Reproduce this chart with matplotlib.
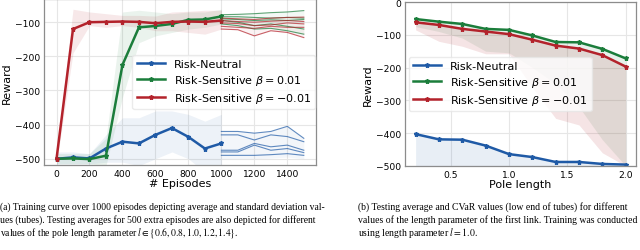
import matplotlib
matplotlib.use("Agg")
import matplotlib.pyplot as plt
import numpy as np

# ---- training curves (left) ----
episodes = [0, 100, 200, 300, 400, 500, 600, 700, 800, 900, 1000]
neutral = [-500, -496, -499, -470, -450, -455, -430, -410, -436, -470, -455]
sens_pos = [-500, -499, -501, -491, -225, -115, -111, -105, -93, -92, -83]
sens_neg = [-500, -120, -100, -99, -98, -99, -103, -99, -98, -99, -95]

neutral_lo = [-515, -515, -515, -510, -510, -520, -500, -480, -500, -540, -540]
neutral_hi = [-480, -480, -485, -430, -380, -380, -360, -360, -370, -390, -370]
pos_lo = [-515, -515, -515, -520, -320, -160, -140, -130, -120, -115, -105]
pos_hi = [-485, -485, -485, -440, -70, -65, -70, -75, -70, -70, -62]
neg_lo = [-515, -190, -110, -115, -110, -115, -125, -125, -130, -135, -120]
neg_hi = [-485, -62, -70, -75, -80, -80, -82, -70, -68, -65, -65]

# ---- testing averages for pole length in {0.6, 0.8, 1.0, 1.2, 1.4} ----
test_eps = [1000, 1100, 1200, 1300, 1400, 1500]
test_neutral = [
    [-420, -420, -425, -420, -405, -440],
    [-430, -430, -445, -430, -435, -450],
    [-475, -475, -455, -465, -460, -475],
    [-480, -480, -460, -475, -470, -482],
    [-490, -490, -490, -488, -485, -490],
]
test_pos = [
    [-78, -77, -75, -72, -70, -66],
    [-84, -84, -86, -88, -86, -88],
    [-90, -92, -95, -93, -95, -92],
    [-95, -100, -110, -105, -112, -120],
    [-105, -110, -120, -118, -125, -135],
]
test_neg = [
    [-88, -90, -92, -88, -86, -85],
    [-95, -98, -100, -97, -95, -98],
    [-102, -104, -110, -108, -102, -105],
    [-112, -115, -118, -112, -115, -115],
    [-120, -122, -140, -125, -130, -145],
]

# ---- testing vs pole length (right) ----
pole = [0.2, 0.4, 0.6, 0.8, 1.0, 1.2, 1.4, 1.6, 1.8, 2.0]
pole_neutral = [-403, -419, -420, -438, -464, -473, -488, -488, -494, -496]
pole_pos = [-52, -60, -67, -82, -85, -102, -122, -123, -143, -172]
pole_neg = [-62, -70, -82, -90, -98, -115, -133, -142, -162, -197]
cvar_neutral = [-500, -500, -500, -500, -500, -500, -500, -500, -500, -500]
cvar_pos = [-75, -90, -110, -150, -155, -200, -250, -320, -420, -500]
cvar_neg = [-85, -120, -135, -158, -158, -260, -355, -375, -460, -500]

labels = ["Risk-Neutral", r"Risk-Sensitive $\beta = 0.01$",
          r"Risk-Sensitive $\beta = -0.01$"]
c_blue = "#1f5aa6"
c_green = "#1b7d3b"
c_red = "#b3222b"

plt.rcParams["font.family"] = "DejaVu Sans"
plt.rcParams["mathtext.fontset"] = "dejavusans"

fig = plt.figure(figsize=(6.4, 2.51), dpi=100)
ax1 = fig.add_axes([0.069, 0.339, 0.425, 0.661])
ax2 = fig.add_axes([0.633, 0.335, 0.361, 0.653])

def style(ax):
    ax.grid(True, color="0.9", linewidth=0.8)
    ax.set_axisbelow(True)
    for s in ax.spines.values():
        s.set_color("0.55")
        s.set_linewidth(0.9)
    ax.tick_params(length=0, labelsize=6.6, pad=3)

kw = dict(linewidth=1.8, marker="*", markersize=3.6)

# left
ax1.fill_between(episodes, neutral_lo, neutral_hi, color=c_blue, alpha=0.08, linewidth=0)
ax1.fill_between(episodes, pos_lo, pos_hi, color=c_green, alpha=0.09, linewidth=0)
ax1.fill_between(episodes, neg_lo, neg_hi, color=c_red, alpha=0.1, linewidth=0)
ax1.plot(episodes, neutral, color=c_blue, label=labels[0], **kw)
ax1.plot(episodes, sens_pos, color=c_green, label=labels[1], **kw)
ax1.plot(episodes, sens_neg, color=c_red, label=labels[2], **kw)

tn = np.array(test_neutral)
tp = np.array(test_pos)
tg = np.array(test_neg)
ax1.fill_between(test_eps, tn.min(0) - 10, tn.max(0), color=c_blue, alpha=0.05, linewidth=0)
ax1.fill_between(test_eps, tp.min(0), tp.max(0), color=c_green, alpha=0.05, linewidth=0)
ax1.fill_between(test_eps, tg.min(0), tg.max(0), color=c_red, alpha=0.05, linewidth=0)
for row in test_neutral:
    ax1.plot(test_eps, row, color=c_blue, linewidth=0.8, alpha=0.7)
for row in test_pos:
    ax1.plot(test_eps, row, color=c_green, linewidth=0.8, alpha=0.7)
for row in test_neg:
    ax1.plot(test_eps, row, color=c_red, linewidth=0.8, alpha=0.7)

style(ax1)
ax1.set_xlim(-75, 1575)
ax1.set_ylim(-518, -32)
ax1.set_xticks([0, 200, 400, 600, 800, 1000, 1200, 1400])
ax1.set_yticks([-500, -400, -300, -200, -100])
ax1.set_xlabel("# Episodes", fontsize=8, labelpad=0)
ax1.set_ylabel("Reward", fontsize=8, labelpad=2)
ax1.legend(loc="center right", fontsize=8, handlelength=2.5, borderaxespad=0.1,
           framealpha=0.8, edgecolor="0.9", fancybox=True, labelspacing=0.35)

# right
ax2.fill_between(pole, cvar_neutral, pole_neutral, color=c_blue, alpha=0.1, linewidth=0)
ax2.fill_between(pole, cvar_pos, pole_pos, color=c_green, alpha=0.1, linewidth=0)
ax2.fill_between(pole, cvar_neg, pole_neg, color=c_red, alpha=0.12, linewidth=0)
ax2.plot(pole, pole_neutral, color=c_blue, label=labels[0], **kw)
ax2.plot(pole, pole_pos, color=c_green, label=labels[1], **kw)
ax2.plot(pole, pole_neg, color=c_red, label=labels[2], **kw)
style(ax2)
ax2.set_xlim(0.11, 2.09)
ax2.set_ylim(-500, 0)
ax2.set_xticks([0.5, 1.0, 1.5, 2.0])
ax2.set_xlabel("Pole length", fontsize=8, labelpad=0)
ax2.set_ylabel("Reward", fontsize=8, labelpad=2)
ax2.legend(loc="center left", fontsize=8, handlelength=2.5, borderaxespad=0.35,
           framealpha=0.8, edgecolor="0.9", fancybox=True, labelspacing=0.35)

# captions
cap_a = ["(a) Training curve over 1000 episodes depicting average and standard deviation val-",
         "ues (tubes). Testing averages for 500 extra episodes are also depicted for different",
         r"values of the pole length parameter $l \in \{0.6, 0.8, 1.0, 1.2, 1.4\}$."]
cap_b = ["(b) Testing average and CVaR values (low end of tubes) for different",
         "values of the length parameter of the first link. Training was conducted",
         r"using length parameter $l = 1.0$."]
ys = [1 - 207 / 251, 1 - 220 / 251, 1 - 233 / 251]
for t, y in zip(cap_a, ys):
    fig.text(0.0, y, t, fontsize=6.9, family="Liberation Serif", va="center",
             math_fontfamily="stix")
for t, y in zip(cap_b, ys):
    fig.text(358 / 640, y, t, fontsize=7.0, family="Liberation Serif", va="center",
             math_fontfamily="stix")

fig.savefig("out.png", dpi=100)
